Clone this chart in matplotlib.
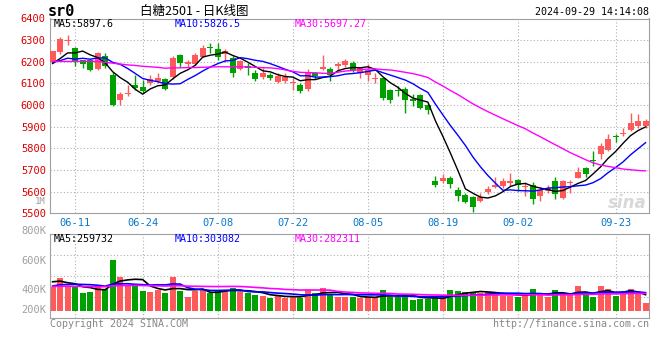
"""
白糖2501 daily K-line chart, sina style
"""
import numpy as np
import pandas as pd
import matplotlib
matplotlib.use("Agg")
import matplotlib.pyplot as plt

# trading days shown (exchange closed 06-10, 09-16, 09-17)
dates = pd.bdate_range("2024-06-05", "2024-09-27", freq="C",
                       holidays=["2024-06-10", "2024-09-16", "2024-09-17"])
tick_dates = ["06-11", "06-24", "07-08", "07-22", "08-05", "08-19", "09-02", "09-23"]
price_ticks = [5500, 5600, 5700, 5800, 5900, 6000, 6100, 6200, 6300, 6400]
vol_labels = ["800K", "600K", "400K", "200K"]

# values printed in the two legend rows
price_ma_text = ["MA5:5897.6", "MA10:5826.5", "MA30:5697.27"]
vol_ma_text = ["MA5:259732", "MA10:303082", "MA30:282311"]

open_ = [6197, 6246, 6297, 6266, 6207, 6210, 6166, 6226, 6140, 6023,
         6049, 6092, 6083, 6100, 6110, 6120, 6130, 6232, 6190, 6188,
         6223, 6269, 6261, 6236, 6218, 6166, 6180, 6149, 6130, 6140,
         6107, 6110, 6103, 6093, 6074, 6147, 6166, 6166, 6182, 6185,
         6194, 6147, 6138, 6121, 6123, 6069, 6069, 6075, 6027, 6045,
         6000, 5650, 5650, 5662, 5608, 5586, 5576, 5558, 5598, 5621,
         5626, 5642, 5652, 5620, 5631, 5578, 5602, 5649, 5570, 5638,
         5663, 5708, 5746, 5773, 5792, 5858, 5865, 5884, 5904, 5905]
high = [6250, 6315, 6324, 6268, 6210, 6212, 6246, 6240, 6152, 6062,
        6094, 6138, 6115, 6138, 6149, 6123, 6227, 6236, 6208, 6241,
        6278, 6287, 6287, 6257, 6226, 6210, 6195, 6161, 6170, 6150,
        6150, 6148, 6127, 6103, 6166, 6153, 6231, 6175, 6198, 6211,
        6205, 6176, 6192, 6147, 6127, 6072, 6089, 6082, 6050, 6052,
        6008, 5673, 5683, 5672, 5623, 5595, 5580, 5592, 5627, 5666,
        5665, 5686, 5660, 5643, 5645, 5622, 5630, 5668, 5655, 5655,
        5715, 5715, 5786, 5823, 5865, 5868, 5893, 5965, 5958, 5935]
low = [6195, 6234, 6277, 6180, 6170, 6156, 6164, 6172, 5998, 5999,
       6043, 6070, 6056, 6092, 6100, 6071, 6122, 6178, 6175, 6185,
       6222, 6241, 6210, 6200, 6130, 6160, 6138, 6111, 6122, 6115,
       6100, 6100, 6069, 6057, 6067, 6120, 6162, 6112, 6155, 6178,
       6151, 6125, 6112, 6103, 6022, 6010, 6041, 5964, 5995, 5982,
       5957, 5623, 5638, 5618, 5558, 5547, 5504, 5553, 5590, 5615,
       5615, 5626, 5602, 5578, 5542, 5558, 5593, 5567, 5568, 5592,
       5661, 5669, 5720, 5753, 5789, 5830, 5857, 5881, 5896, 5896]
close = [6249, 6304, 6302, 6205, 6188, 6162, 6241, 6180, 6000, 6052,
         6055, 6078, 6067, 6120, 6126, 6074, 6218, 6196, 6200, 6231,
         6263, 6262, 6222, 6249, 6149, 6202, 6170, 6121, 6150, 6125,
         6136, 6128, 6107, 6065, 6152, 6136, 6177, 6140, 6188, 6202,
         6162, 6169, 6164, 6126, 6033, 6024, 6063, 6023, 6020, 5985,
         5978, 5631, 5662, 5635, 5582, 5554, 5530, 5573, 5614, 5632,
         5650, 5650, 5630, 5627, 5566, 5609, 5615, 5588, 5649, 5646,
         5692, 5682, 5740, 5811, 5842, 5851, 5873, 5917, 5928, 5926]
volume = [386, 535, 386, 386, 287, 314, 386, 358, 837, 551,
          408, 441, 330, 314, 342, 287, 551, 330, 231, 330,
          342, 287, 325, 342, 380, 314, 287, 259, 243, 215,
          248, 215, 248, 215, 342, 287, 380, 271, 231, 231,
          231, 205, 231, 205, 342, 231, 231, 276, 177, 188,
          188, 231, 231, 342, 325, 309, 309, 297, 309, 271,
          248, 248, 231, 276, 358, 271, 231, 342, 276, 259,
          408, 259, 231, 408, 353, 248, 287, 358, 297, 132]  # thousand lots

# closes / volumes of the 29 sessions before 06-05 (only feed the MA lines)
prev_close = [6304, 6302, 6205, 6188, 6162, 6241, 6300, 6120, 6172, 6175,
              6150, 6187, 6190, 6200, 6194, 6170, 6196, 6160, 6231, 6220,
              6230, 6190, 6249, 6149, 6202, 6189, 6172, 6205, 6145]
prev_volume = [420, 380, 410, 360, 450, 390, 370, 400, 430, 380,
               350, 420, 410, 390, 380, 400, 370, 410, 390, 410,
               330, 350, 320, 340, 350, 480, 520, 470, 530]

RED = "#ff5a5a"
GREEN = "#00a000"
MA_COLORS = {5: "black", 10: "#0000ff", 30: "#ff00ff"}
GRID = dict(color="#b0b0b0", lw=0.8, ls=(0, (1, 2)))
MONO = "DejaVu Sans Mono"


def moving_average(values, prev, n):
    s = pd.Series(list(prev) + list(values), dtype=float)
    return s.rolling(n).mean().to_numpy()[len(prev):]


W, H = 660, 360


def fx(x):
    return x / W


def fy(y):
    return 1 - y / H


fig = plt.figure(figsize=(6.6, 3.6), dpi=100)
ax = fig.add_axes([fx(50), fy(213.3), fx(649.3) - fx(50), fy(18.5) - fy(213.3)])
axv = fig.add_axes([fx(50), fy(318.3), fx(649.3) - fx(50), fy(234.3) - fy(318.3)])

x = np.arange(len(dates))
o, h, l, c = map(np.array, (open_, high, low, close))
vol = np.array(volume) * 1000
up = c >= o
colors = np.where(up, RED, GREEN)
labels_all = [d.strftime("%m-%d") for d in dates]
grid_x = [labels_all.index(t) for t in tick_dates]

# --- price panel
for xi in grid_x:
    ax.axvline(xi, zorder=0, **GRID)
for p in price_ticks[1:-1]:
    ax.axhline(p, zorder=0, **GRID)

ax.vlines(x, l, h, colors=colors, lw=1.0, zorder=2)
body = np.maximum(np.abs(c - o), 4)
ax.bar(x, body, bottom=np.minimum(o, c), width=0.8, color=colors,
       lw=0, zorder=3)

for n, col in MA_COLORS.items():
    ax.plot(x, moving_average(close, prev_close, n), color=col, lw=1.0,
            zorder=4)

ax.set_xlim(-0.35, 79.5)
ax.set_ylim(5500, 6400)
ax.set_yticks(price_ticks)
ax.set_yticklabels([str(p) for p in price_ticks], family=MONO, fontsize=7.5,
                   color="#dd0000")
ax.set_xticks(grid_x)
ax.set_xticklabels(tick_dates, family=MONO, fontsize=7.5, color="#0a78c8")
ax.tick_params(length=0, pad=3)
ax.tick_params(axis="x", pad=3.5)
for s in ax.spines.values():
    s.set_color("#a0a0a0")

# --- volume panel
for xi in grid_x:
    axv.axvline(xi, zorder=0, **GRID)
axv.bar(x, vol, width=0.8, color=colors, lw=0, zorder=2)
for n, col in MA_COLORS.items():
    axv.plot(x, moving_average(vol, np.array(prev_volume) * 1000, n),
             color=col, lw=1.2, zorder=3)
axv.set_xlim(-0.35, 79.5)
vlo, vhi = -125400, 1260600
axv.set_ylim(vlo, vhi)
for f in (0.25, 0.5, 0.75):
    axv.axhline(vlo + f * (vhi - vlo), zorder=0, **GRID)
axv.set_xticks([])
axv.set_yticks([])
for s in axv.spines.values():
    s.set_color("#a0a0a0")

for lab, yy in zip(vol_labels, [231, 261, 290, 310]):
    fig.text(fx(46), fy(yy), lab, ha="right", va="center", family=MONO,
             fontsize=7.5, color="#a0a0a0")
fig.text(fx(46), fy(201.5), "1M", ha="right", va="center", family=MONO,
         fontsize=6.5, color="#a0a0a0")

# --- header texts
fig.text(fx(48), fy(12), "sr0", ha="left", va="center", family=MONO,
         fontsize=11, weight="bold")
fig.text(fx(140), fy(11), "白糖2501 - 日K线图", ha="left", va="center",
         family=["Noto Sans CJK SC", "DejaVu Sans"], fontsize=9)
fig.text(fx(649), fy(12), "2024-09-29 14:14:08", ha="right", va="center",
         family=MONO, fontsize=7.2)

hx = [54, 175, 295]
for col, xx, pt, vt in zip(MA_COLORS.values(), hx, price_ma_text, vol_ma_text):
    fig.text(fx(xx), fy(24), pt, ha="left", va="center", family=MONO,
             fontsize=7.2, color=col)
    fig.text(fx(xx), fy(238.7), vt, ha="left", va="center", family=MONO,
             fontsize=7.2, color=col)

fig.text(fx(50), fy(324), "Copyright 2024 SINA.COM", ha="left", va="center",
         family=MONO, fontsize=7.2, color="#888888")
fig.text(fx(649), fy(324), "http://finance.sina.com.cn", ha="right",
         va="center", family=MONO, fontsize=7.2, color="#888888")
fig.text(fx(647), fy(203), "sina", ha="right", va="center", fontsize=12,
         style="italic", weight="bold", color="#d8d8d8")

fig.savefig("out.png", dpi=100)
